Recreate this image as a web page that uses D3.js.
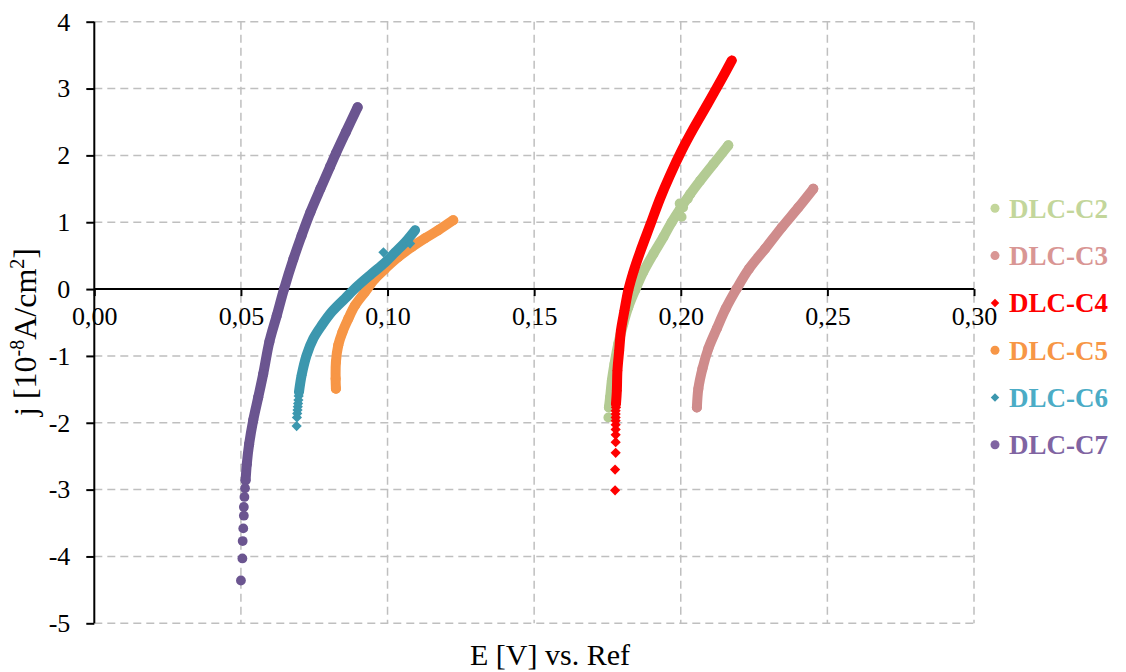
<!DOCTYPE html>
<html>
<head>
<meta charset="utf-8">
<script src="https://cdn.jsdelivr.net/npm/d3@7"></script>
<style>
  html, body { margin: 0; padding: 0; background: #ffffff; }
  svg { display: block; }
  text { font-family: "Liberation Serif", "Times New Roman", serif; }
</style>
</head>
<body>
<svg id="chart" width="1126" height="672"></svg>
<script>
// ---------------- DATA ----------------
const xTicks = [0.00, 0.05, 0.10, 0.15, 0.20, 0.25, 0.30];
const xTickLabels = ["0,00", "0,05", "0,10", "0,15", "0,20", "0,25", "0,30"];
const yTicks = [-5, -4, -3, -2, -1, 0, 1, 2, 3, 4];
const yTickLabels = ["-5", "-4", "-3", "-2", "-1", "0", "1", "2", "3", "4"];

const seriesNames = ["DLC-C2", "DLC-C3", "DLC-C4", "DLC-C5", "DLC-C6", "DLC-C7"];
const seriesShapes = ["circle", "circle", "diamond", "circle", "diamond", "circle"];

// dense measured traces [E (V), j (1e-8 A/cm2)]
const c2Trace = [[0.2162,2.15],[0.2111,1.87],[0.2066,1.62],[0.2032,1.42],[0.1998,1.20],[0.1969,1.00],
  [0.1941,0.78],[0.1907,0.53],[0.1872,0.255],[0.1844,-0.02],[0.1821,-0.27],[0.1804,-0.52],[0.1787,-0.82],
  [0.1774,-1.12],[0.1765,-1.37],[0.1759,-1.62],[0.1755,-1.77]];
const c2Points = [[0.1753,-1.92],[0.2003,1.08],[0.2008,1.22],[0.2024,1.35],[0.1996,1.28]];

const c3Trace = [[0.2452,1.50],[0.2401,1.22],[0.2344,0.92],[0.2288,0.605],[0.2233,0.305],[0.2190,0.0],
  [0.2153,-0.295],[0.2123,-0.59],[0.2094,-0.89],[0.2074,-1.19],[0.2060,-1.49],[0.2055,-1.77]];
const c3Points = [];

const c4Trace = [[0.2174,3.42],[0.2134,3.10],[0.2089,2.75],[0.2043,2.40],[0.2004,2.08],[0.1963,1.70],
  [0.1929,1.35],[0.1895,0.95],[0.1861,0.55],[0.1838,0.25],[0.1821,-0.02],[0.1808,-0.32],[0.1796,-0.62],
  [0.1790,-0.92],[0.1784,-1.22],[0.1782,-1.52],[0.1779,-1.72]];
const c4Points = [[0.1779,-1.77],[0.1778,-1.82],[0.1778,-1.87],[0.1778,-1.92],[0.1778,-1.97],
  [0.1778,-2.03],[0.1778,-2.10],[0.1778,-2.18],[0.1778,-2.29],[0.1778,-2.45],
  [0.1776,-2.70],[0.1776,-3.01]];

const c5Trace = [[0.1224,1.03],[0.1173,0.88],[0.1128,0.76],[0.1083,0.63],[0.1037,0.48],[0.0991,0.30],
  [0.0957,0.155],[0.0923,-0.045],[0.0889,-0.245],[0.0866,-0.445],[0.0846,-0.645],[0.0832,-0.84],
  [0.0824,-1.09],[0.0823,-1.34],[0.0824,-1.49]];
const c5Points = [];

const c6Trace = [[0.1094,0.88],[0.1060,0.70],[0.1026,0.55],[0.0992,0.40],[0.0946,0.23],[0.0900,0.055],
  [0.0855,-0.14],[0.0810,-0.34],[0.0776,-0.54],[0.0747,-0.74],[0.0724,-0.99],[0.0707,-1.29],[0.0698,-1.54]];
const c6Points = [[0.0697,-1.60],[0.0696,-1.66],[0.0695,-1.71],[0.0694,-1.76],[0.0693,-1.81],
  [0.0692,-1.86],[0.0691,-1.92],[0.0690,-2.05],[0.0986,0.55],[0.1077,0.68]];

const c7Trace = [[0.0898,2.72],[0.0858,2.35],[0.0824,2.03],[0.0804,1.83],[0.0771,1.50],[0.0737,1.15],
  [0.0707,0.80],[0.0679,0.45],[0.0647,0.0],[0.0622,-0.40],[0.0597,-0.79],[0.0576,-1.27],[0.0559,-1.62],
  [0.0542,-1.96],[0.0528,-2.32],[0.0520,-2.62],[0.0516,-2.86]];
const c7Points = [[0.0514,-2.98],[0.0512,-3.11],[0.0510,-3.26],[0.0510,-3.39],[0.0508,-3.58],
  [0.0506,-3.77],[0.0505,-4.03],[0.0500,-4.36]];

const traces = [c2Trace, c3Trace, c4Trace, c5Trace, c6Trace, c7Trace];
const discretePoints = [c2Points, c3Points, c4Points, c5Points, c6Points, c7Points];

// ---------------- STYLE ----------------
const markerColors = ["#b3cb93", "#cf8c8c", "#ff0000", "#f79646", "#3c97ae", "#6b5590"];
const legendColors = ["#c3d69b", "#d99694", "#ff0000", "#f79646", "#4bacc6", "#8064a2"];

const svg = d3.select("#chart");
const pLeft = 94.3, pRight = 974, pTop = 21.7, pBottom = 623.3;

const x = d3.scaleLinear().domain([0, 0.30]).range([pLeft, pRight]);
const y = d3.scaleLinear().domain([-5, 4]).range([pBottom, pTop]);

// grid
const grid = svg.append("g");
grid.selectAll("line.h").data(yTicks.filter(v => v !== 0)).enter().append("line")
  .attr("x1", pLeft).attr("x2", pRight).attr("y1", d => y(d)).attr("y2", d => y(d))
  .attr("stroke", "#bfbfbf").attr("stroke-width", 1.5).attr("stroke-dasharray", "8,5");
grid.selectAll("line.v").data(xTicks.filter(v => v !== 0)).enter().append("line")
  .attr("x1", d => x(d)).attr("x2", d => x(d)).attr("y1", pTop).attr("y2", pBottom)
  .attr("stroke", "#bfbfbf").attr("stroke-width", 1.5).attr("stroke-dasharray", "8,5");

// y axis
const yAxis = d3.axisLeft(y).tickValues(yTicks).tickFormat((d, i) => yTickLabels[i]).tickSize(8).tickPadding(16);
const gy = svg.append("g").attr("transform", `translate(${x(0)},0)`).call(yAxis);
gy.select(".domain").attr("stroke", "#000").attr("stroke-width", 2).attr("d", `M0,${pTop}V${pBottom}`);
gy.selectAll(".tick line").attr("stroke", "#000").attr("stroke-width", 2);
gy.selectAll(".tick text").attr("font-family", "Liberation Serif, serif").attr("font-size", 26).attr("fill", "#000");

// x axis at j = 0
const xAxis = d3.axisBottom(x).tickValues(xTicks).tickFormat((d, i) => xTickLabels[i]).tickSize(7).tickPadding(10);
const gx = svg.append("g").attr("transform", `translate(0,${y(0)})`).call(xAxis);
gx.select(".domain").attr("stroke", "#000").attr("stroke-width", 2).attr("d", `M${pLeft},0H${pRight}`);
gx.selectAll(".tick line").attr("stroke", "#000").attr("stroke-width", 2);
gx.selectAll(".tick text").attr("font-family", "Liberation Serif, serif").attr("font-size", 26).attr("fill", "#000");

// series
const line = d3.line().x(d => x(d[0])).y(d => y(d[1])).curve(d3.curveCatmullRom.alpha(0.5));
const diamondGen = d3.symbol().type(d3.symbolSquare).size(52);

function drawMarker(g, shape, cx, cy, color, r) {
  if (shape === "circle") {
    g.append("circle").attr("cx", cx).attr("cy", cy).attr("r", r).attr("fill", color);
  } else {
    g.append("path").attr("d", diamondGen())
      .attr("transform", `translate(${cx},${cy}) rotate(45)`).attr("fill", color);
  }
}

traces.forEach((tr, i) => {
  const g = svg.append("g");
  g.append("path").datum(tr).attr("d", line).attr("fill", "none")
    .attr("stroke", markerColors[i]).attr("stroke-width", 10)
    .attr("stroke-linecap", "round").attr("stroke-linejoin", "round");
  tr.forEach(d => drawMarker(g, seriesShapes[i], x(d[0]), y(d[1]), markerColors[i], 5));
  discretePoints[i].forEach(d => drawMarker(g, seriesShapes[i], x(d[0]), y(d[1]), markerColors[i], 4.9));
});

// legend
const legendY0 = 208.3, legendStep = 47.3;
seriesNames.forEach((name, i) => {
  const g = svg.append("g");
  const cy = legendY0 + i * legendStep;
  if (seriesShapes[i] === "circle") {
    g.append("circle").attr("cx", 995).attr("cy", cy).attr("r", 4.5).attr("fill", legendColors[i]);
  } else {
    g.append("path").attr("d", d3.symbol().type(d3.symbolSquare).size(36)())
      .attr("transform", `translate(995,${cy}) rotate(45)`).attr("fill", i === 4 ? "#3c97ae" : legendColors[i]);
  }
  g.append("text").attr("x", 1009).attr("y", cy + 9.5)
    .attr("font-size", 27).attr("font-weight", "bold").attr("fill", legendColors[i])
    .text(name);
});

// axis titles
svg.append("text").attr("x", 550).attr("y", 665).attr("text-anchor", "middle")
  .attr("font-size", 30).attr("fill", "#000").text("E [V] vs. Ref");

const yt = svg.append("text").attr("transform", "translate(36,332) rotate(-90)")
  .attr("text-anchor", "middle").attr("font-size", 32).attr("fill", "#000");
yt.append("tspan").text("j [10");
yt.append("tspan").attr("font-size", 20).attr("dy", -12).text("-8");
yt.append("tspan").attr("dy", 12).text("A/cm");
yt.append("tspan").attr("font-size", 20).attr("dy", -12).text("2");
yt.append("tspan").attr("dy", 12).text("]");
</script>
</body>
</html>
